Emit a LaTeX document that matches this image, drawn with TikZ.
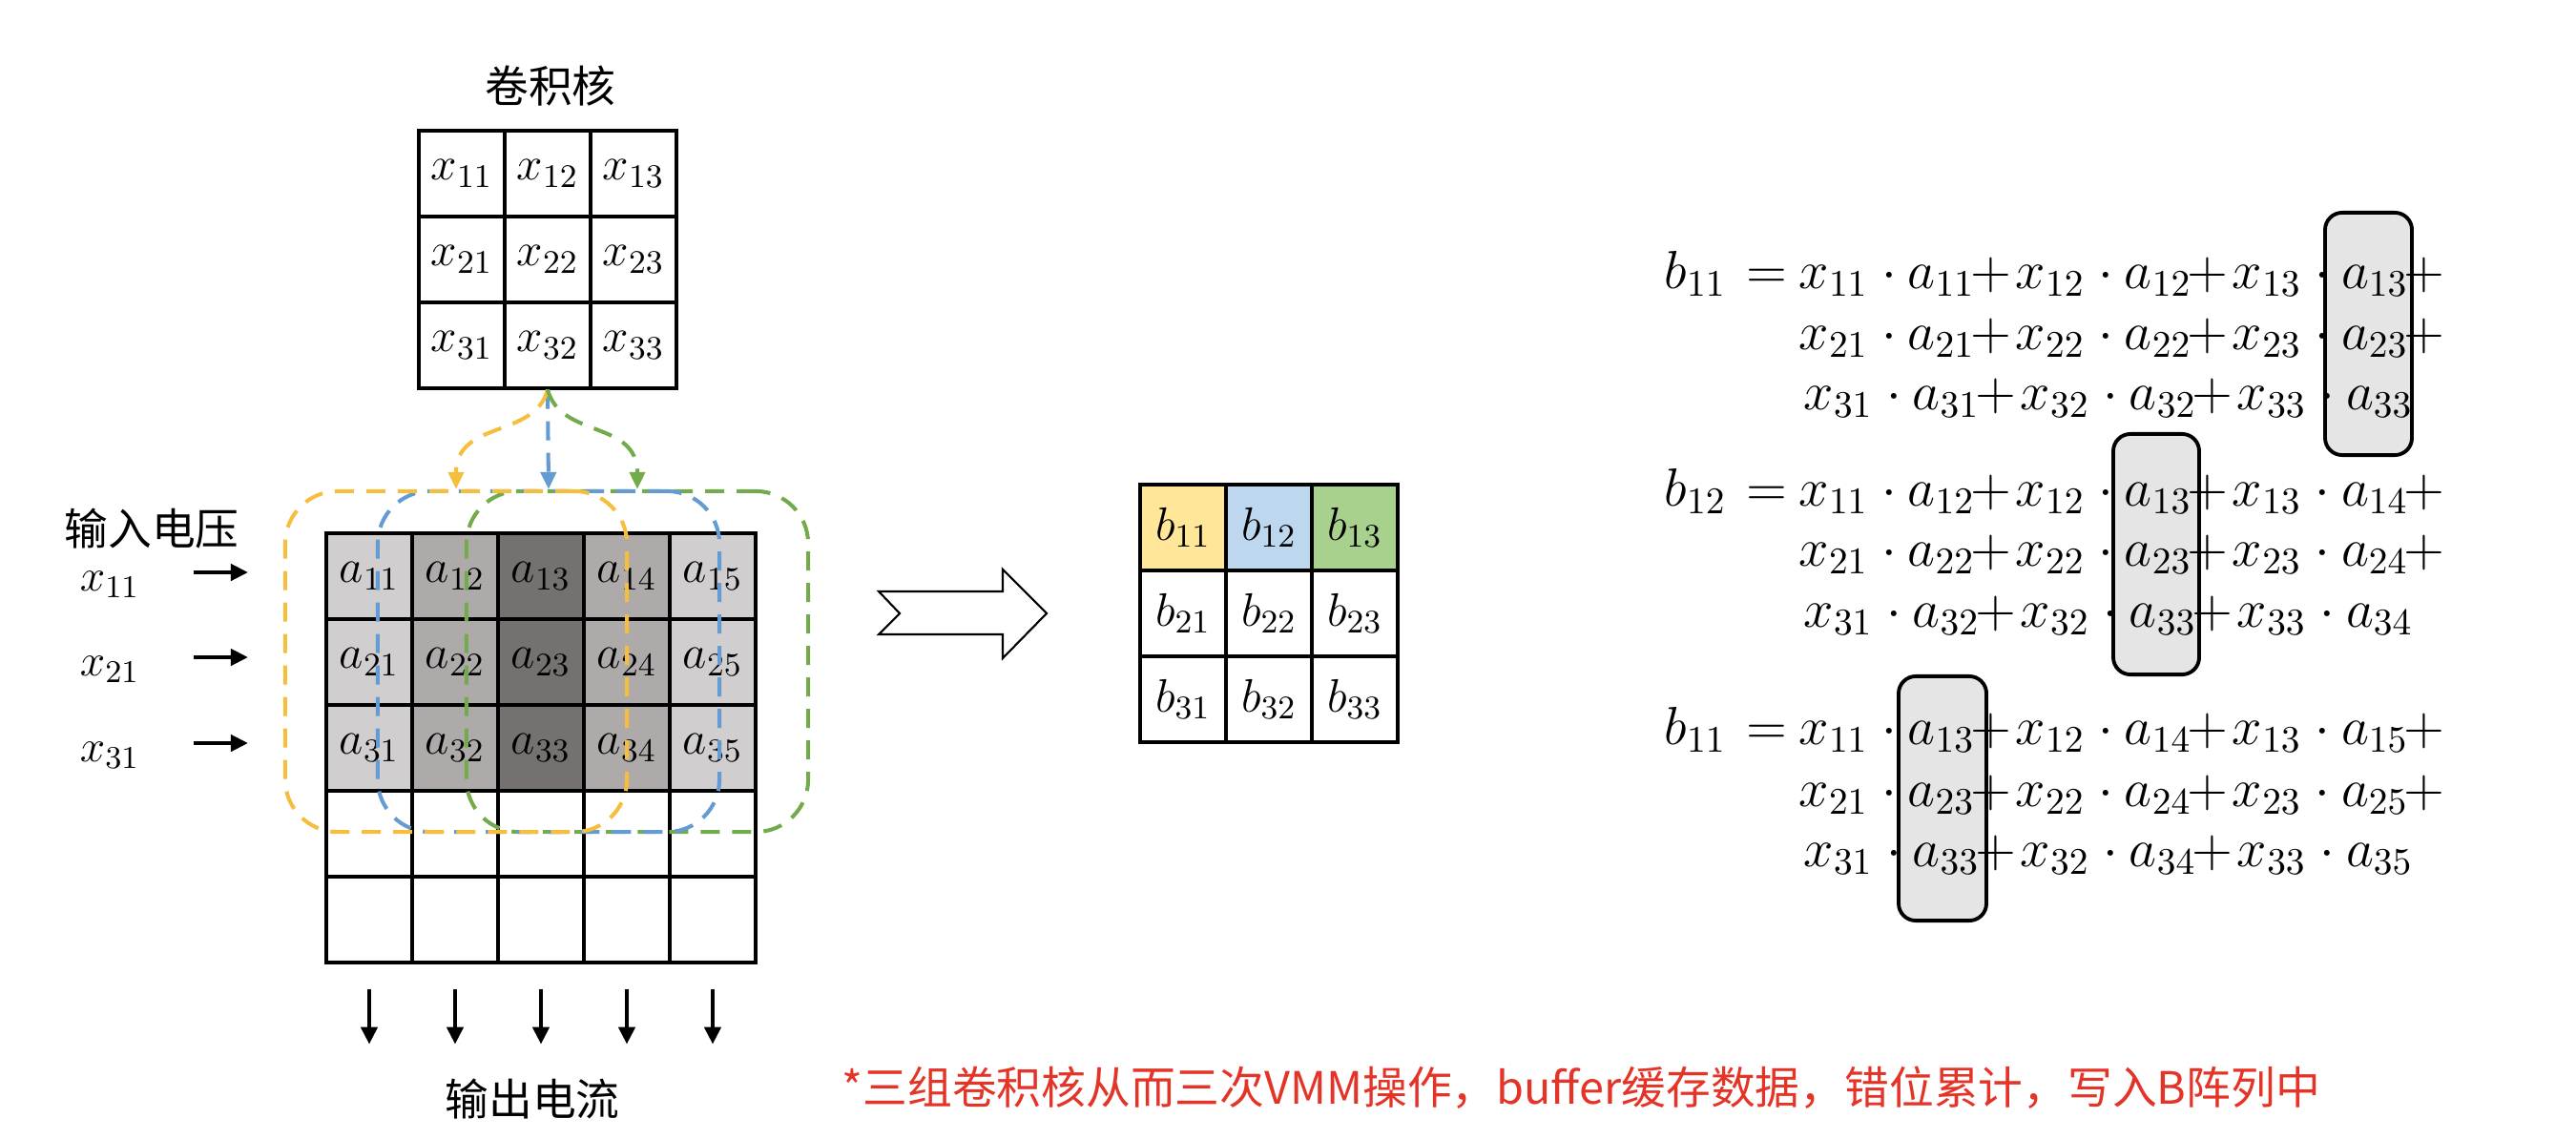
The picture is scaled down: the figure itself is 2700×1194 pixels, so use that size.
\RequirePackage{fix-cm}
\documentclass[tikz,border=0pt]{standalone}
\usepackage{fontspec}
\newfontfamily\cjk{Noto Sans CJK SC}
\usetikzlibrary{arrows.meta}
\definecolor{gA}{RGB}{208,206,206}
\definecolor{gB}{RGB}{174,170,170}
\definecolor{gC}{RGB}{118,113,113}
\definecolor{cY}{RGB}{245,190,60}
\definecolor{cB}{RGB}{100,155,210}
\definecolor{cG}{RGB}{115,170,75}
\definecolor{bY}{RGB}{255,230,153}
\definecolor{bB}{RGB}{189,215,238}
\definecolor{bG}{RGB}{169,209,142}
\definecolor{hiGray}{RGB}{230,229,230}
\definecolor{noteRed}{RGB}{228,52,40}
\newcommand\tmx[3]{\hbox to 1.14cm{$x_{#1}$\hfill$\cdot$\hspace{0.12cm}}\hbox to 1.13cm{$a_{#2}\mkern-1.5mu#3$\hfil}}
\newcommand\blab[1]{\hbox to 0.86cm{$b_{#1}$\hfil}$=$}
\begin{document}
\begin{tikzpicture}[x=0.01cm,y=-0.01cm,
  cell/.style={draw, line width=0.9pt, minimum size=0.9cm, inner sep=0pt, font=\fontsize{14}{16}\selectfont},
  lab/.style={inner sep=0pt, font=\fontsize{13.5}{16}\selectfont},
  cjkf/.style={inner sep=0pt, font=\cjk\fontsize{13}{15}\selectfont},
  arr/.style={line width=1.2pt, -{Triangle[length=0.18cm,width=0.17cm]}},
  win/.style={line width=1.15pt, dash pattern=on 0.2cm off 0.13cm, minimum width=3.58cm, minimum height=3.57cm, rounded corners=0.55cm, inner sep=0pt},
  warr/.style={line width=1.15pt, dash pattern=on 0.2cm off 0.13cm, -{Triangle[length=0.18cm,width=0.16cm]}},
  eqf/.style={inner sep=0pt, anchor=base west, font=\fontsize{16}{19}\selectfont},
  hbx/.style={draw, fill=hiGray, line width=1.1pt, rounded corners=0.18cm, inner sep=0pt}
]
\useasboundingbox (0,0) rectangle (2700,1194);

% kernel
\node[cjkf] (ktitle) at (577,90) {卷积核};
\foreach \rr in {1,2,3}{
  \foreach \cc in {1,2,3}{
    \node[cell] (k\rr\cc) at ({394+90*\cc},{92+90*\rr}) {$x_{\rr\cc}$};
  }
}

% crossbar array
\foreach \cc/\ff in {1/gA,2/gB,3/gC,4/gB,5/gA}{
  \foreach \rr in {1,2,3}{
    \node[cell, fill=\ff] (a\rr\cc) at ({297+90*\cc},{514+90*\rr}) {$a_{\rr\cc}$};
  }
  \foreach \rr in {4,5}{
    \node[cell] (a\rr\cc) at ({297+90*\cc},{514+90*\rr}) {};
  }
}

% input labels and arrows
\node[cjkf] (inlab) at (159,554) {输入电压};
\node[lab, anchor=base] (in1) at (115,619) {$x_{11}$};
\node[lab, anchor=base] (in2) at (115,708) {$x_{21}$};
\node[lab, anchor=base] (in3) at (115,798) {$x_{31}$};
\coordinate (ia1) at (203,600); \coordinate (ib1) at (260,600);
\coordinate (ia2) at (203,689); \coordinate (ib2) at (260,689);
\coordinate (ia3) at (203,779); \coordinate (ib3) at (260,779);
\draw[arr] (ia1) -- (ib1);
\draw[arr] (ia2) -- (ib2);
\draw[arr] (ia3) -- (ib3);

% output arrows
\foreach \cc in {1,...,5}{
  \draw[arr] ([yshift=-0.26cm]a5\cc.south) -- ([yshift=-0.84cm]a5\cc.south);
}
\node[cjkf] (outlab) at (558,1152) {输出电流};

% sliding windows
\node[win, draw=cG] (winG) at (668,693.5) {};
\node[win, draw=cB] (winB) at (575,693.5) {};
\node[win, draw=cY] (winY) at (478,693.5) {};

% dashed arrows from kernel
\draw[warr, draw=cB] (k32.south) -- (winB.north);
\draw[warr, draw=cY] (k32.south) .. controls (560,460) and (478,440) .. (winY.north);
\draw[warr, draw=cG] (k32.south) .. controls (588,460) and (668,440) .. (winG.north);

% block arrow
\draw[line width=0.6pt, fill=white] (921,620) -- (1051,620) -- (1051,597) -- (1097,643) -- (1051,690) -- (1051,665) -- (921,665) -- (943,643) -- cycle;

% output grid B
\foreach \rr in {1,2,3}{
  \foreach \cc in {1,2,3}{
    \node[cell] (b\rr\cc) at ({1150+90*\cc},{463+90*\rr}) {$b_{\rr\cc}$};
  }
}
\node[cell, fill=bY] (b11f) at (b11) {$b_{11}$};
\node[cell, fill=bB] (b12f) at (b12) {$b_{12}$};
\node[cell, fill=bG] (b13f) at (b13) {$b_{13}$};

% highlight boxes
\node[hbx, minimum width=0.91cm, minimum height=2.54cm] (h1) at (2482.5,350) {};
\node[hbx, minimum width=0.90cm, minimum height=2.52cm] (h2) at (2260,581) {};
\node[hbx, minimum width=0.92cm, minimum height=2.56cm] (h3) at (2036,837) {};

% equation block 1
\node[eqf] (e1b) at (1744,302) {\blab{11}};
\node[eqf] (e1l1) at (1885,302) {\tmx{11}{11}{+}\tmx{12}{12}{+}\tmx{13}{13}{+}};
\node[eqf] (e1l2) at (1885,366) {\tmx{21}{21}{+}\tmx{22}{22}{+}\tmx{23}{23}{+}};
\node[eqf] (e1l3) at (1890,429) {\tmx{31}{31}{+}\tmx{32}{32}{+}\tmx{33}{33}{}};

% equation block 2
\node[eqf] (e2b) at (1744,530) {\blab{12}};
\node[eqf] (e2l1) at (1885,530) {\tmx{11}{12}{+}\tmx{12}{13}{+}\tmx{13}{14}{+}};
\node[eqf] (e2l2) at (1885,593) {\tmx{21}{22}{+}\tmx{22}{23}{+}\tmx{23}{24}{+}};
\node[eqf] (e2l3) at (1890,657) {\tmx{31}{32}{+}\tmx{32}{33}{+}\tmx{33}{34}{}};

% equation block 3
\node[eqf] (e3b) at (1744,780) {\blab{11}};
\node[eqf] (e3l1) at (1885,780) {\tmx{11}{13}{+}\tmx{12}{14}{+}\tmx{13}{15}{+}};
\node[eqf] (e3l2) at (1885,845) {\tmx{21}{23}{+}\tmx{22}{24}{+}\tmx{23}{25}{+}};
\node[eqf] (e3l3) at (1890,908) {\tmx{31}{33}{+}\tmx{32}{34}{+}\tmx{33}{35}{}};

% footnote
\node[inner sep=0pt, anchor=west, text=noteRed, font=\cjk\fontsize{13.3}{16}\selectfont] (note) at (882,1140) {*三组卷积核从而三次VMM操作，buffer缓存数据，错位累计，写入B阵列中};
\end{tikzpicture}
\end{document}
